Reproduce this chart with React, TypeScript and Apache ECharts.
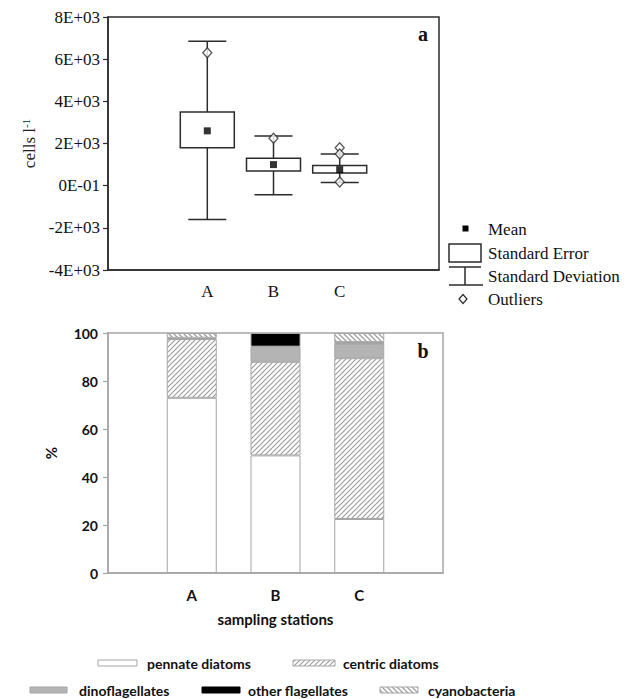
import React, { useEffect, useRef } from 'react';
import * as echarts from 'echarts';

// ---------- panel a : box plot data ----------
const stations = ['A', 'B', 'C'];
const topTickLabels = ['-4E+03', '-2E+03', '0E-01', '2E+03', '4E+03', '6E+03', '8E+03'];
const sdLow = [-1600, -430, 150];
const seLow = [1800, 700, 600];
const meanValues = [2600, 1000, 760];
const seHigh = [3500, 1300, 960];
const sdHigh = [6850, 2350, 1500];
const outlierStations = ['A', 'B', 'C', 'C', 'C'];
const outlierValues = [6300, 2250, 1800, 1500, 170];

// ---------- panel b : composition (%) ----------
const groupNames = ['pennate diatoms', 'centric diatoms', 'dinoflagellates', 'other flagellates', 'cyanobacteria'];
const pennate = [73, 49, 22.5];
const centric = [24.5, 39, 67];
const dino = [0.5, 6.3, 6];
const otherFlag = [0, 5.7, 0.7];
const cyano = [2, 0, 3.8];

const SERIF = '"Liberation Serif", "Times New Roman", serif';
const SANS = 'Lato, "Open Sans", sans-serif';
const DARK = '#2b2b2b';
const GRAYLINE = '#a6a6a6';

function makeHatch(dir: number, size: number, color: string, lw: number) {
  const c = document.createElement('canvas');
  c.width = size;
  c.height = size;
  const ctx = c.getContext('2d') as CanvasRenderingContext2D;
  ctx.fillStyle = '#ffffff';
  ctx.fillRect(0, 0, size, size);
  ctx.strokeStyle = color;
  ctx.lineWidth = lw;
  ctx.beginPath();
  for (let k = -1; k <= 2; k++) {
    if (dir > 0) {
      ctx.moveTo(-size, k * size + size);
      ctx.lineTo(2 * size, k * size - 2 * size);
    } else {
      ctx.moveTo(-size, k * size - size);
      ctx.lineTo(2 * size, k * size + 2 * size);
    }
  }
  ctx.stroke();
  return { image: c, repeat: 'repeat', imageWidth: size, imageHeight: size };
}

export default function App() {
  const ref = useRef<HTMLDivElement>(null);

  useEffect(() => {
    if (!ref.current) return;
    const chart = echarts.init(ref.current, null, { renderer: 'svg' });

    const centricPat = makeHatch(1, 5, '#9a9a9a', 1.1);
    const cyanoPat = makeHatch(-1, 5, '#a0a0a0', 1.3);
    const centricPat2 = makeHatch(1, 5, '#9a9a9a', 1.1);
    const cyanoPat2 = makeHatch(-1, 5, '#a0a0a0', 1.3);

    const topAxisCats = ['', ...stations, ''];
    const botAxisCats = ['', ...stations, ''];

    const boxData = stations.map((s, i) => [s, sdLow[i], seLow[i], seHigh[i], sdHigh[i]]);
    const meanData = stations.map((s, i) => [s, meanValues[i]]);
    const outlierData = outlierStations.map((s, i) => [s, outlierValues[i]]);

    const pad = (arr: number[]) => [null, ...arr.map((v) => (v === 0 ? null : v)), null];
    const groupValues = [pennate, centric, dino, otherFlag, cyano];
    const groupFills: any[] = ['#ffffff', centricPat, '#b4b4b4', '#000000', cyanoPat];

    const lineStyle = { stroke: DARK, lineWidth: 1.5 };
    const legendFontA = '17px "Liberation Serif"';
    const legendFontB = 'bold 14px Lato';

    const option: any = {
      animation: false,
      backgroundColor: '#ffffff',
      grid: [
        { left: 108, top: 17, width: 331, height: 253, show: true, borderColor: DARK, borderWidth: 1.5, backgroundColor: 'transparent' },
        { left: 108, top: 333, width: 335, height: 240, show: true, borderColor: GRAYLINE, borderWidth: 1.5, backgroundColor: 'transparent' },
      ],
      xAxis: [
        {
          gridIndex: 0,
          type: 'category',
          data: topAxisCats,
          boundaryGap: true,
          axisLine: { onZero: false, lineStyle: { color: DARK, width: 1.5 } },
          axisTick: { show: false },
          axisLabel: { interval: 0, margin: 13, color: '#111', fontFamily: SERIF, fontSize: 17 },
        },
        {
          gridIndex: 1,
          type: 'category',
          data: botAxisCats,
          boundaryGap: false,
          axisLine: { onZero: false, lineStyle: { color: GRAYLINE, width: 1.5 } },
          axisTick: { show: false },
          axisLabel: { interval: 0, margin: 14, color: '#111', fontFamily: SANS, fontWeight: 'bold', fontSize: 15 },
          name: 'sampling stations',
          nameLocation: 'middle',
          nameGap: 38,
          nameTextStyle: { color: '#111', fontFamily: SANS, fontWeight: 'bold', fontSize: 15 },
        },
      ],
      yAxis: [
        {
          gridIndex: 0,
          type: 'value',
          min: -4000,
          max: 8000,
          interval: 2000,
          splitLine: { show: false },
          axisLine: { show: true, lineStyle: { color: DARK, width: 1.5 } },
          axisTick: { show: true, inside: false, length: 5, lineStyle: { color: DARK, width: 1.2 } },
          axisLabel: {
            margin: 8,
            color: '#111',
            fontFamily: SERIF,
            fontSize: 17,
            formatter: (_v: number, idx: number) => topTickLabels[idx],
          },
          name: '{t|cells l}{s|-1}',
          nameLocation: 'middle',
          nameRotate: 90,
          nameGap: 68,
          nameTextStyle: {
            color: '#222',
            rich: {
              t: { fontFamily: SERIF, fontSize: 17, color: '#222' },
              s: { fontFamily: SERIF, fontSize: 11, color: '#222', verticalAlign: 'top' },
            },
          },
        },
        {
          gridIndex: 1,
          type: 'value',
          min: 0,
          max: 100,
          interval: 20,
          splitLine: { show: false },
          axisLine: { show: true, lineStyle: { color: GRAYLINE, width: 1.5 } },
          axisTick: { show: true, inside: false, length: 5, lineStyle: { color: GRAYLINE, width: 1.2 } },
          axisLabel: { margin: 10, color: '#111', fontFamily: SANS, fontWeight: 'bold', fontSize: 14 },
          name: '%',
          nameLocation: 'middle',
          nameRotate: 90,
          nameGap: 50,
          nameTextStyle: { color: '#111', fontFamily: SANS, fontWeight: 'bold', fontSize: 15 },
        },
      ],
      series: [
        {
          name: 'Standard Deviation / Standard Error',
          type: 'custom',
          xAxisIndex: 0,
          yAxisIndex: 0,
          data: boxData,
          encode: { x: 0, y: [1, 2, 3, 4] },
          renderItem: (_params: any, api: any) => {
            const x = api.value(0);
            const pLow = api.coord([x, api.value(1)]);
            const pSeLow = api.coord([x, api.value(2)]);
            const pSeHigh = api.coord([x, api.value(3)]);
            const pHigh = api.coord([x, api.value(4)]);
            const cx = pLow[0];
            const boxW = 54;
            const capW = 38;
            return {
              type: 'group',
              children: [
                { type: 'line', shape: { x1: cx, y1: pLow[1], x2: cx, y2: pHigh[1] }, style: lineStyle },
                { type: 'line', shape: { x1: cx - capW / 2, y1: pLow[1], x2: cx + capW / 2, y2: pLow[1] }, style: lineStyle },
                { type: 'line', shape: { x1: cx - capW / 2, y1: pHigh[1], x2: cx + capW / 2, y2: pHigh[1] }, style: lineStyle },
                {
                  type: 'rect',
                  shape: { x: cx - boxW / 2, y: pSeHigh[1], width: boxW, height: pSeLow[1] - pSeHigh[1] },
                  style: { fill: '#ffffff', stroke: DARK, lineWidth: 1.5 },
                },
              ],
            };
          },
          z: 2,
        },
        {
          name: 'Outliers',
          type: 'scatter',
          xAxisIndex: 0,
          yAxisIndex: 0,
          data: outlierData,
          symbol: 'diamond',
          symbolSize: [9, 10],
          itemStyle: { color: '#ffffff', borderColor: DARK, borderWidth: 1.3 },
          z: 3,
        },
        {
          name: 'Mean',
          type: 'scatter',
          xAxisIndex: 0,
          yAxisIndex: 0,
          data: meanData,
          symbol: 'rect',
          symbolSize: 7,
          itemStyle: { color: '#000000' },
          z: 4,
        },
        ...groupNames.map((g, gi) => ({
          name: g,
          type: 'bar',
          xAxisIndex: 1,
          yAxisIndex: 1,
          stack: 'pct',
          barWidth: 50,
          data: pad(groupValues[gi]),
          itemStyle: { color: groupFills[gi], borderColor: GRAYLINE, borderWidth: 1 },
        })),
      ],
      graphic: [
        { type: 'text', style: { text: 'a', x: 423, y: 34, align: 'center', verticalAlign: 'middle', font: 'bold 20px "Liberation Serif"', fill: '#111' } },
        { type: 'text', style: { text: 'b', x: 423, y: 351, align: 'center', verticalAlign: 'middle', font: 'bold 20px "Liberation Serif"', fill: '#111' } },
        // legend for panel a
        { type: 'rect', shape: { x: 462.5, y: 225.5, width: 6, height: 6 }, style: { fill: '#000' } },
        { type: 'text', style: { text: 'Mean', x: 488, y: 229, verticalAlign: 'middle', font: legendFontA, fill: '#111' } },
        { type: 'rect', shape: { x: 449, y: 244, width: 32, height: 18 }, style: { fill: '#fff', stroke: DARK, lineWidth: 1.5 } },
        { type: 'text', style: { text: 'Standard Error', x: 488, y: 253, verticalAlign: 'middle', font: legendFontA, fill: '#111' } },
        { type: 'line', shape: { x1: 449, y1: 267, x2: 481, y2: 267 }, style: lineStyle },
        { type: 'line', shape: { x1: 449, y1: 285, x2: 483, y2: 285 }, style: lineStyle },
        { type: 'line', shape: { x1: 465, y1: 267, x2: 465, y2: 285 }, style: lineStyle },
        { type: 'text', style: { text: 'Standard Deviation', x: 488, y: 276, verticalAlign: 'middle', font: legendFontA, fill: '#111' } },
        { type: 'polygon', shape: { points: [[463, 294.5], [467, 299], [463, 303.5], [459, 299]] }, style: { fill: '#fff', stroke: DARK, lineWidth: 1.2 } },
        { type: 'text', style: { text: 'Outliers', x: 488, y: 299, verticalAlign: 'middle', font: legendFontA, fill: '#111' } },
        // legend for panel b
        { type: 'rect', shape: { x: 98, y: 660, width: 39, height: 6 }, style: { fill: '#fff', stroke: GRAYLINE, lineWidth: 1 } },
        { type: 'text', style: { text: groupNames[0], x: 147, y: 663, verticalAlign: 'middle', font: legendFontB, fill: '#111' } },
        { type: 'rect', shape: { x: 293, y: 660, width: 42, height: 6 }, style: { fill: centricPat2, stroke: GRAYLINE, lineWidth: 1 } },
        { type: 'text', style: { text: groupNames[1], x: 343, y: 663, verticalAlign: 'middle', font: legendFontB, fill: '#111' } },
        { type: 'rect', shape: { x: 30, y: 687, width: 37, height: 6 }, style: { fill: '#b4b4b4', stroke: GRAYLINE, lineWidth: 1 } },
        { type: 'text', style: { text: groupNames[2], x: 79, y: 690, verticalAlign: 'middle', font: legendFontB, fill: '#111' } },
        { type: 'rect', shape: { x: 202, y: 687, width: 38, height: 6 }, style: { fill: '#000', stroke: '#000', lineWidth: 1 } },
        { type: 'text', style: { text: groupNames[3], x: 248, y: 690, verticalAlign: 'middle', font: legendFontB, fill: '#111' } },
        { type: 'rect', shape: { x: 380, y: 687, width: 38, height: 6 }, style: { fill: cyanoPat2, stroke: GRAYLINE, lineWidth: 1 } },
        { type: 'text', style: { text: groupNames[4], x: 428, y: 690, verticalAlign: 'middle', font: legendFontB, fill: '#111' } },
      ],
    };

    chart.setOption(option);
    return () => chart.dispose();
  }, []);

  return (
    <div
      ref={ref}
      style={{ position: 'absolute', left: 0, top: 0, width: 640, height: 699, background: '#fff' }}
    />
  );
}
